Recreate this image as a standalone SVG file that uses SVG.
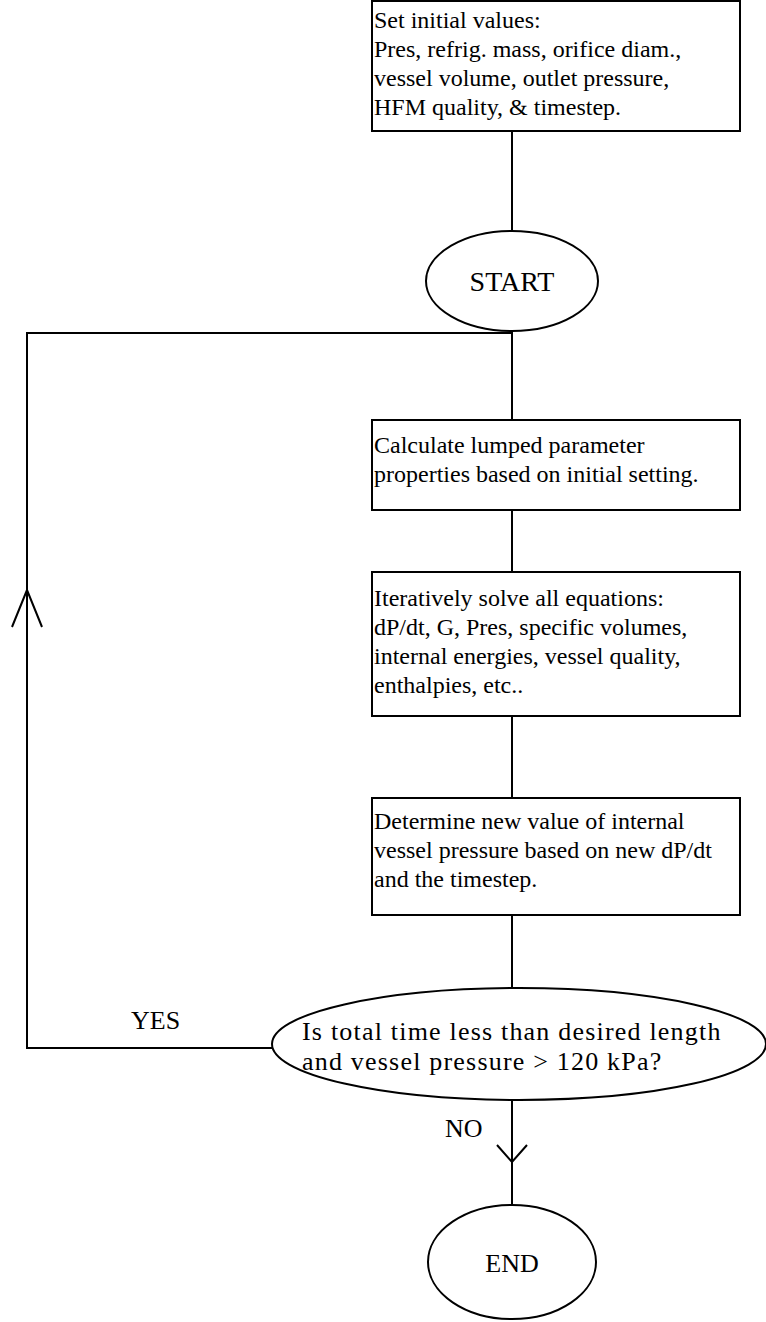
<svg xmlns="http://www.w3.org/2000/svg" width="766" height="1322" viewBox="0 0 766 1322">
<style>
.box{fill:#fff;stroke:#000;stroke-width:2}
.ell{fill:#fff;stroke:#000;stroke-width:2}
.ln{fill:none;stroke:#000;stroke-width:2}
text{font-family:"Liberation Serif","Times New Roman",serif;font-size:24px;fill:#000}
.c{text-anchor:middle}
.lbl{font-size:26px}
.big{font-size:28px}
.dec{font-size:26px;letter-spacing:1.2px}
</style>
<rect width="766" height="1322" fill="#fff"/>
<g id="connectors">
<line class="ln" x1="512" y1="131" x2="512" y2="232"/>
<line class="ln" x1="512" y1="330" x2="512" y2="420"/>
<polyline class="ln" points="512,333 27,333 27,1048 272,1048"/>
<polyline class="ln" points="12,627 27,590 42,627"/>
<line class="ln" x1="512" y1="510" x2="512" y2="572"/>
<line class="ln" x1="512" y1="716" x2="512" y2="798"/>
<line class="ln" x1="512" y1="915" x2="512" y2="988"/>
<line class="ln" x1="512" y1="1100" x2="512" y2="1205"/>
<polyline class="ln" points="497,1145 512,1162 527,1145"/>
<text class="lbl" x="131" y="1029">YES</text>
<text class="lbl" x="445" y="1137">NO</text>
</g>
<g id="n1">
<rect class="box" x="372" y="1" width="368" height="130"/>
<text x="374" y="28">Set initial values:</text>
<text x="374" y="57">Pres, refrig. mass, orifice diam.,</text>
<text x="374" y="86">vessel volume, outlet pressure,</text>
<text x="374" y="115">HFM quality, &amp; timestep.</text>
</g>
<g id="start">
<ellipse class="ell" cx="512" cy="281" rx="86" ry="50"/>
<text class="c big" x="512" y="291">START</text>
</g>
<g id="n2">
<rect class="box" x="372" y="420" width="368" height="90"/>
<text x="374" y="453">Calculate lumped parameter</text>
<text x="374" y="482">properties based on initial setting.</text>
</g>
<g id="n3">
<rect class="box" x="372" y="572" width="368" height="144"/>
<text x="374" y="606">Iteratively solve all equations:</text>
<text x="374" y="635">dP/dt, G, Pres, specific volumes,</text>
<text x="374" y="664">internal energies, vessel quality,</text>
<text x="374" y="693">enthalpies, etc..</text>
</g>
<g id="n4">
<rect class="box" x="372" y="798" width="368" height="117"/>
<text x="374" y="829">Determine new value of internal</text>
<text x="374" y="858">vessel pressure based on new dP/dt</text>
<text x="374" y="887">and the timestep.</text>
</g>
<g id="decision">
<ellipse class="ell" cx="519" cy="1044" rx="247" ry="56"/>
<text class="dec" x="302" y="1040">Is total time less than desired length</text>
<text class="dec" x="302" y="1070">and vessel pressure &gt; 120 kPa?</text>
</g>
<g id="end">
<ellipse class="ell" cx="512" cy="1262" rx="84" ry="57"/>
<text class="c lbl" x="512" y="1272">END</text>
</g>
</svg>
